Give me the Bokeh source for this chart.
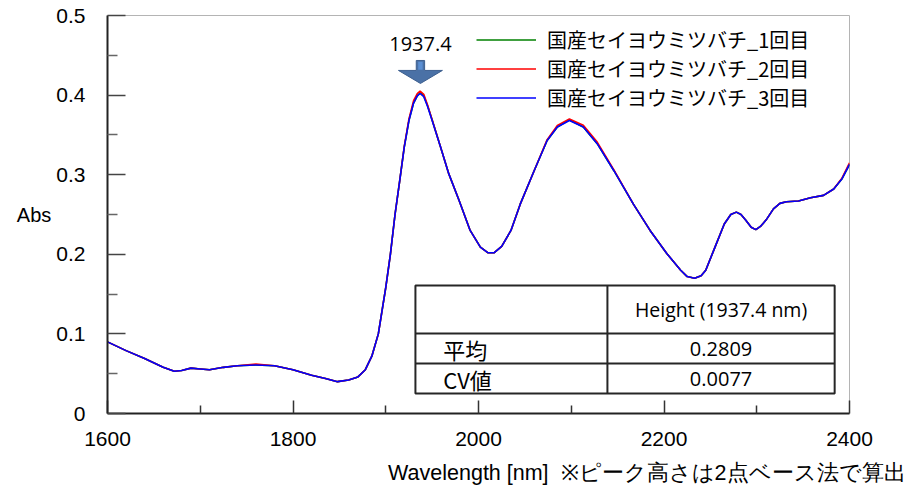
from bokeh.plotting import figure
from bokeh.models import (Range1d, Legend, LegendItem, Label, CustomJSTickFormatter,
                          FixedTicker, Title)
from bokeh.embed import file_html
from bokeh.resources import INLINE

# ---------------- data ----------------
wavelength = [1600, 1620, 1640, 1660, 1672, 1680, 1690, 1700, 1710, 1725,
              1740, 1760, 1780, 1800, 1820, 1835, 1848, 1860, 1870, 1878,
              1885, 1892, 1900, 1905, 1910, 1915, 1920, 1925, 1930, 1934,
              1937, 1941, 1945, 1950, 1959, 1968, 1979, 1991, 2002, 2010,
              2017, 2025, 2035, 2045, 2060, 2074, 2085, 2098, 2113, 2128,
              2146, 2167, 2185, 2203, 2218, 2225, 2233, 2240, 2245, 2255,
              2265, 2272, 2278, 2283, 2288, 2294, 2299, 2304, 2310, 2318,
              2325, 2332, 2345, 2358, 2372, 2383, 2392, 2400]

run1 = [0.090, 0.079, 0.069, 0.058, 0.053, 0.054, 0.057, 0.056, 0.055, 0.058,
        0.060, 0.061, 0.060, 0.055, 0.048, 0.044, 0.040, 0.042, 0.046, 0.055,
        0.072, 0.100, 0.158, 0.200, 0.250, 0.292, 0.335, 0.368, 0.390, 0.399,
        0.403, 0.399, 0.387, 0.369, 0.335, 0.301, 0.268, 0.230, 0.209, 0.202,
        0.202, 0.210, 0.230, 0.263, 0.305, 0.343, 0.360, 0.369, 0.360, 0.339,
        0.305, 0.263, 0.230, 0.201, 0.180, 0.172, 0.170, 0.173, 0.180, 0.209,
        0.238, 0.250, 0.253, 0.250, 0.243, 0.234, 0.231, 0.235, 0.243, 0.257,
        0.264, 0.266, 0.267, 0.271, 0.274, 0.282, 0.295, 0.313]

run2 = [0.090, 0.079, 0.069, 0.058, 0.053, 0.054, 0.057, 0.056, 0.055, 0.058,
        0.060, 0.062, 0.060, 0.055, 0.048, 0.044, 0.040, 0.042, 0.046, 0.055,
        0.072, 0.100, 0.158, 0.200, 0.250, 0.292, 0.336, 0.370, 0.393, 0.402,
        0.405, 0.401, 0.388, 0.369, 0.335, 0.301, 0.268, 0.230, 0.209, 0.202,
        0.202, 0.210, 0.230, 0.263, 0.305, 0.344, 0.362, 0.370, 0.362, 0.341,
        0.306, 0.263, 0.230, 0.201, 0.180, 0.172, 0.170, 0.173, 0.180, 0.209,
        0.238, 0.250, 0.253, 0.250, 0.243, 0.234, 0.231, 0.235, 0.243, 0.257,
        0.264, 0.266, 0.267, 0.271, 0.274, 0.282, 0.296, 0.315]

run3 = [0.090, 0.079, 0.069, 0.058, 0.053, 0.054, 0.057, 0.056, 0.055, 0.058,
        0.060, 0.061, 0.060, 0.055, 0.048, 0.044, 0.040, 0.042, 0.046, 0.055,
        0.072, 0.100, 0.158, 0.200, 0.250, 0.292, 0.335, 0.368, 0.390, 0.399,
        0.402, 0.398, 0.386, 0.368, 0.335, 0.301, 0.268, 0.230, 0.209, 0.202,
        0.202, 0.210, 0.230, 0.263, 0.305, 0.343, 0.360, 0.368, 0.360, 0.339,
        0.305, 0.263, 0.230, 0.201, 0.180, 0.172, 0.170, 0.173, 0.180, 0.209,
        0.238, 0.250, 0.253, 0.250, 0.243, 0.234, 0.231, 0.235, 0.243, 0.257,
        0.264, 0.266, 0.267, 0.271, 0.274, 0.282, 0.295, 0.313]

series_names = ["国産セイヨウミツバチ_1回目", "国産セイヨウミツバチ_2回目",
                "国産セイヨウミツバチ_3回目"]
series_colors = ["#008000", "#ff0000", "#0000ff"]

peak_wavelength = 1937.4
peak_label = "1937.4"

table_header = "Height (1937.4 nm)"
table_row_labels = ["平均", "CV値"]
table_values = ["0.2809", "0.0077"]

x_major_ticks = [1600, 1800, 2000, 2200, 2400]
x_minor_ticks = [1700, 1900, 2100, 2300]
y_major_ticks = [0, 0.1, 0.2, 0.3, 0.4, 0.5]
y_minor_ticks = [0.05, 0.15, 0.25, 0.35, 0.45]

x_title = "Wavelength [nm]\u00a0 ※ピーク高さは2点ベース法で算出"
y_title = "Abs"

# ---------------- figure ----------------
p = figure(width=905, height=497, x_range=Range1d(1600, 2400), y_range=Range1d(0, 0.5),
           output_backend="svg", toolbar_location=None,
           min_border_left=107, min_border_right=56, min_border_top=15, min_border_bottom=84)
p.xgrid.visible = False
p.ygrid.visible = False
p.outline_line_color = "#b4b4b4"
p.outline_line_width = 1
p.background_fill_color = "white"
p.border_fill_color = "white"

AX_FONT = "Liberation Sans"

xa = p.xaxis[0]
xa.ticker = FixedTicker(ticks=x_major_ticks, minor_ticks=x_minor_ticks)
xa.major_tick_in = 13
xa.major_tick_out = 0
xa.minor_tick_in = 8
xa.minor_tick_out = 0
xa.axis_line_color = "#222222"
xa.axis_line_width = 2
xa.major_tick_line_color = "#333333"
xa.minor_tick_line_color = "#333333"
xa.major_tick_line_width = 1.5
xa.minor_tick_line_width = 1.5
xa.major_label_standoff = 18
xa.major_label_text_font = AX_FONT
xa.major_label_text_font_size = "21px"
xa.major_label_text_color = "black"

ya = p.yaxis[0]
ya.ticker = FixedTicker(ticks=y_major_ticks, minor_ticks=y_minor_ticks)
ya.formatter = CustomJSTickFormatter(code="return Math.abs(tick) < 1e-9 ? '0' : tick.toFixed(1);")
ya.major_tick_in = 18
ya.major_tick_out = 0
ya.minor_tick_in = 10
ya.minor_tick_out = 0
ya.axis_line_color = "#222222"
ya.axis_line_width = 2
ya.major_tick_line_color = "#444444"
ya.minor_tick_line_color = "#666666"
ya.major_tick_line_width = 1.5
ya.minor_tick_line_width = 1.5
ya.major_label_standoff = 22
ya.major_label_text_font = AX_FONT
ya.major_label_text_font_size = "21px"
ya.major_label_text_color = "black"
ya.axis_label = y_title
ya.axis_label_standoff = 2
ya.axis_label_text_font = AX_FONT
ya.axis_label_text_font_size = "20px"
ya.axis_label_text_font_style = "normal"
ya.axis_label_text_color = "black"
if "axis_label_orientation" in ya.properties():
    ya.axis_label_orientation = "horizontal"

# ---------------- spectra ----------------
renderers = []
for ys, col in zip([run1, run2, run3], series_colors):
    r = p.line(wavelength, ys, line_color=col, line_width=1.6)
    renderers.append(r)

legend = Legend(items=[LegendItem(label=n, renderers=[r]) for n, r in zip(series_names, renderers)],
                location=(369, 301), orientation="vertical",
                border_line_alpha=0, background_fill_alpha=0,
                padding=0, margin=0, spacing=0,
                glyph_width=60, glyph_height=27, label_height=27, label_standoff=11,
                label_text_font="Noto Sans CJK JP", label_text_font_size="20px",
                label_text_color="black")
p.add_layout(legend)

# ---------------- peak arrow ----------------
arrow_top, arrow_neck, arrow_tip = 0.4435, 0.431, 0.4146
head_half, shaft_half = 23.7, 4.5
ax_ = [peak_wavelength - shaft_half, peak_wavelength + shaft_half, peak_wavelength + shaft_half,
       peak_wavelength + head_half, peak_wavelength, peak_wavelength - head_half,
       peak_wavelength - shaft_half]
ay_ = [arrow_top, arrow_top, arrow_neck, arrow_neck, arrow_tip, arrow_neck, arrow_neck]
p.patch(ax_, ay_, fill_color="#4a71a6", line_color="#3d5f8f", line_width=1)
p.quad(left=[peak_wavelength - 2.4], right=[peak_wavelength + 2.4],
       top=[arrow_top - 0.0015], bottom=[arrow_neck + 0.001],
       fill_color="#5b8fd3", line_alpha=0)

p.add_layout(Label(x=peak_wavelength, y=0.4636, text=peak_label, text_align="center",
                   text_baseline="middle", text_font="Open Sans", text_font_size="20px",
                   text_color="black"))

# ---------------- table ----------------
t_left, t_mid, t_right = 1932.0, 2139.0, 2384.0
t_top, t_row1, t_row2, t_bottom = 0.1608, 0.1005, 0.0628, 0.0251
p.quad(left=[t_left], right=[t_right], top=[t_top], bottom=[t_bottom],
       fill_color="white", line_color="#262626", line_width=2)
p.segment(x0=[t_mid, t_left, t_left], y0=[t_top, t_row1, t_row2],
          x1=[t_mid, t_right, t_right], y1=[t_bottom, t_row1, t_row2],
          line_color="#262626", line_width=2)

col2_center = (t_mid + t_right) / 2
p.add_layout(Label(x=col2_center, y=(t_top + t_row1) / 2, text=table_header, text_align="center",
                   text_baseline="middle", text_font="Open Sans", text_font_size="19.5px",
                   text_color="black"))
for lab, val, (r_top, r_bot) in zip(table_row_labels, table_values,
                                     [(t_row1, t_row2), (t_row2, t_bottom)]):
    yc = (r_top + r_bot) / 2
    p.add_layout(Label(x=col2_center, y=yc, text=val, text_align="center",
                       text_baseline="middle", text_font="Open Sans", text_font_size="20px",
                       text_color="black"))
    p.add_layout(Label(x=t_left + 30, y=yc, text=lab, text_align="left",
                       text_baseline="middle", text_font="Noto Sans CJK JP",
                       text_font_size="22px", text_color="black"))

# ---------------- x title (right aligned, below axis) ----------------
p.add_layout(Title(text=x_title, align="right", offset=-60, standoff=21,
                   text_font=AX_FONT, text_font_size="21.5px", text_font_style="normal",
                   text_color="black"), "below")

open("out.html", "w").write(file_html(p, INLINE))
